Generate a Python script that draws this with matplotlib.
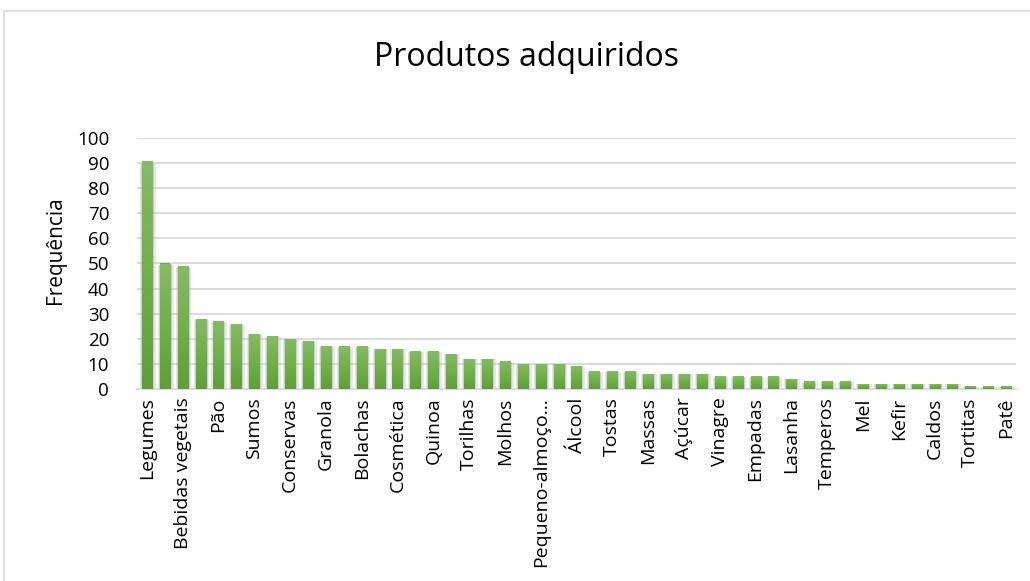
import matplotlib
matplotlib.use("Agg")
import matplotlib.pyplot as plt
from matplotlib.patches import Rectangle
from matplotlib.colors import LinearSegmentedColormap
import numpy as np

# Categories (only every other label is visible in the reference; hidden ones left blank)
categories = ["Legumes", "", "Bebidas vegetais", "", "Pão", "", "Sumos", "", "Conservas", "",
              "Granola", "", "Bolachas", "", "Cosmética", "", "Quinoa", "", "Torilhas", "",
              "Molhos", "", "Pequeno-almoço...", "", "Álcool", "", "Tostas", "", "Massas", "",
              "Açúcar", "", "Vinagre", "", "Empadas", "", "Lasanha", "", "Temperos", "",
              "Mel", "", "Kefir", "", "Caldos", "", "Tortitas", "", "Patê"]
frequencia = [91, 50, 49, 28, 27, 26, 22, 21, 20, 19,
              17, 17, 17, 16, 16, 15, 15, 14, 12, 12,
              11, 10, 10, 10, 9, 7, 7, 7, 6, 6,
              6, 6, 5, 5, 5, 5, 4, 3, 3, 3,
              2, 2, 2, 2, 2, 2, 1, 1, 1]
yticks = [0, 10, 20, 30, 40, 50, 60, 70, 80, 90, 100]

W, H = 1030, 581
fig = plt.figure(figsize=(W / 100, H / 100), dpi=100)
fig.patch.set_facecolor("white")

# chart border
fig.patches.append(Rectangle((4 / W, -0.01), (W + 10) / W, (H - 11) / H + 0.01,
                             transform=fig.transFigure, fill=False,
                             edgecolor="#d9d9d9", linewidth=1.2))

left, right = 137 / W, 1016 / W
bottom, top = 1 - 389 / H, 1 - 138 / H
ax = fig.add_axes([left, bottom, right - left, top - bottom])

x = np.arange(len(frequencia))
# soft shadow behind bars
ax.bar(x + 0.05, np.array(frequencia) * 0.985, width=0.88, color="#bfbfbf", alpha=0.35,
       zorder=2, linewidth=0)
ax.bar(x + 0.03, np.array(frequencia) * 0.99, width=0.72, color="#a6a6a6", alpha=0.4,
       zorder=2, linewidth=0)
bars = ax.bar(x, frequencia, width=0.56, color="#6cad46", zorder=3, linewidth=0)

# vertical gradient on bars
grad = np.linspace(0, 1, 256).reshape(-1, 1)
cmap = LinearSegmentedColormap.from_list("g", ["#5e9f38", "#71b048", "#86ba68"])
for b in bars:
    bx, by, bw, bh = b.get_x(), b.get_y(), b.get_width(), b.get_height()
    im = ax.imshow(grad, extent=(bx, bx + bw, by, by + bh), origin="lower",
                   aspect="auto", cmap=cmap, zorder=3.5)
    im.set_clip_path(b)

ax.set_xlim(-0.55, len(frequencia) - 0.45)
ax.set_ylim(0, 100)
ax.set_yticks(yticks)
ax.set_yticklabels([str(v) for v in yticks], fontsize=13.5, family="Open Sans")
ax.yaxis.grid(True, color="#d9d9d9", linewidth=1.3, zorder=0)
ax.set_axisbelow(True)
for s in ["top", "right", "left"]:
    ax.spines[s].set_visible(False)
ax.spines["bottom"].set_color("#d9d9d9")
ax.spines["bottom"].set_linewidth(1.3)
ax.tick_params(axis="y", length=0, pad=20)
ax.tick_params(axis="x", length=0, pad=6)

shown = [i for i in range(len(categories)) if i % 2 == 0]
ax.set_xticks(shown)
ax.set_xticklabels([categories[i] for i in shown], rotation=90, fontsize=14,
                   family="Open Sans")

ax.set_ylabel("Frequência", fontsize=15, family="Open Sans")
ax.yaxis.set_label_coords(-0.081, 0.554)

fig.text(527 / W, 1 - 57 / H, "Produtos adquiridos", ha="center", va="center",
         fontsize=23, family="Open Sans")

fig.savefig("out.png", dpi=100, facecolor="white")
